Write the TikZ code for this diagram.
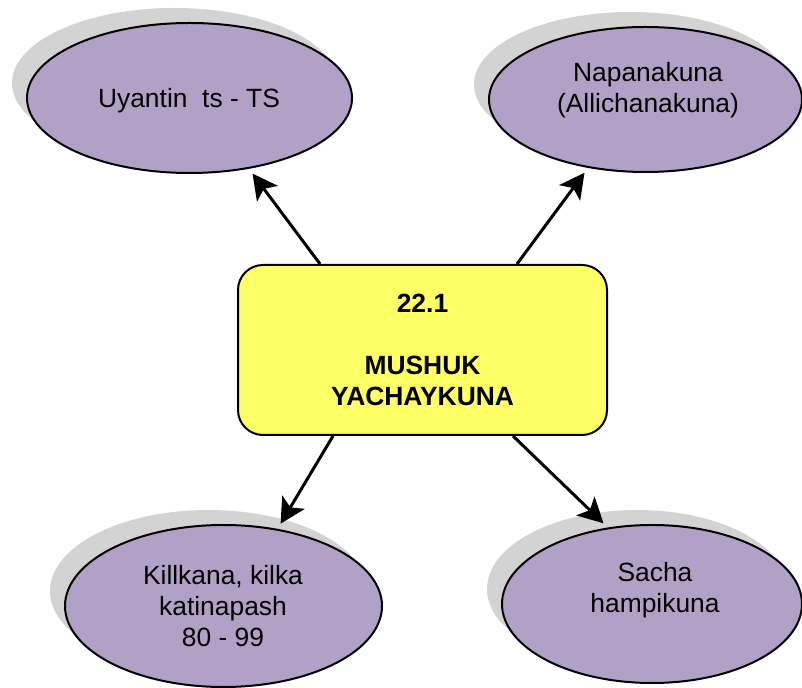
\documentclass[tikz,border=0pt]{standalone}
\usepackage{fontspec}
\setmainfont{Liberation Sans}
\usetikzlibrary{shapes.geometric,shadows,arrows.meta}
\definecolor{mapcolor0000}{RGB}{0,0,0}
\definecolor{mapcolor0001}{RGB}{177,161,199}
\definecolor{mapcolor0002}{RGB}{211,211,211}
\definecolor{mapcolor0003}{RGB}{255,255,102}

\begin{document}
\begin{tikzpicture}[yscale=-1
,ovalstyle/.style={ellipse,draw=mapcolor0000,fill=mapcolor0001,line width=1pt,inner sep=0pt,drop shadow={shadow xshift=-7.5pt,shadow yshift=7.5pt,fill=mapcolor0002,opacity=1}}
,ovaltext/.style={align=center,inner sep=0pt,font=\fontsize{13.2}{15.5}\selectfont}
,boxstyle/.style={rectangle,rounded corners=12.5pt,draw=mapcolor0000,fill=mapcolor0003,line width=1pt,align=center,font=\fontsize{13.2}{15.5}\selectfont\bfseries}
,arrowstyle/.style={-{Stealth[length=12.5pt,width=13pt,inset=3pt]},line width=1.5pt,shorten >=3pt,color=mapcolor0000}
]
\useasboundingbox (0pt,0pt) rectangle (401pt,344pt);
\node[ovalstyle,minimum width=162.5pt,minimum height=75pt] (topleft) at (94.75pt,49pt){};
\node[ovaltext] (topleftlabel) at (94.5pt,50.5pt){Uyantin\ \ ts - TS};
\node[ovalstyle,minimum width=156.5pt,minimum height=72.5pt] (topright) at (322.75pt,49.75pt){};
\node[ovaltext] (toprightlabel) at (324pt,45pt){Napanakuna\\(Allichanakuna)};
\node[ovalstyle,minimum width=158.5pt,minimum height=81pt] (bottomleft) at (111.75pt,303pt){};
\node[ovaltext] (bottomleftlabel) at (111.5pt,303pt){Killkana, kilka\\katinapash\\80 - 99};
\node[ovalstyle,minimum width=150pt,minimum height=79pt] (bottomright) at (326pt,302pt){};
\node[ovaltext] (bottomrightlabel) at (327.5pt,295pt){Sacha\\hampikuna};
\node[boxstyle,minimum width=184.5pt,minimum height=85pt] (core) at (211.25pt,175pt){22.1\\[15.5pt]MUSHUK\\YACHAYKUNA};
\draw[arrowstyle] ([xshift=-51.25pt]core.north) -- (topleft.-50);
\draw[arrowstyle] ([xshift=47.25pt]core.north) -- (topright.-130);
\draw[arrowstyle] ([xshift=-44.75pt]core.south) -- (bottomleft.55);
\draw[arrowstyle] ([xshift=45.25pt]core.south) -- (bottomright.120);
\end{tikzpicture}
\end{document}
